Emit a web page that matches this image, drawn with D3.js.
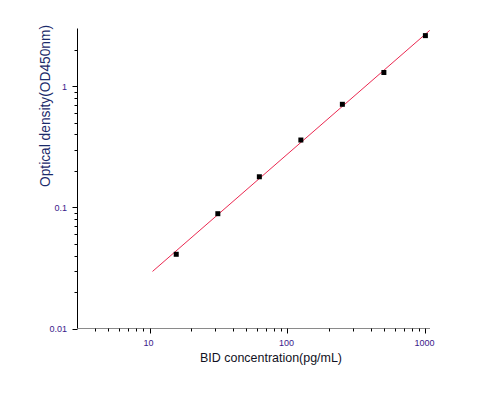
<!DOCTYPE html>
<meta charset="utf-8">
<style>
body {
  margin: 0;
  background: #fff;
  font-family: Arial, "Liberation Sans", sans-serif;
}
.tick-label {
  font-size: 9px;
  fill: #3a1a8a;
}
</style>
<body>
<script src="https://cdn.jsdelivr.net/npm/d3@7"></script>
<script>

var width = 495,
    height = 399;

// standard concentrations (pg/mL) and measured OD450
var concentrations = [15.6, 31.25, 62.5, 125, 250, 500, 1000];
var od450 = [0.041, 0.0887, 0.179, 0.36, 0.71, 1.30, 2.62];

var xTickValues = [10, 100, 1000];
var xTickLabels = ["10", "100", "1000"];
var yTickValues = [0.01, 0.1, 1];
var yTickLabels = ["0.01", "0.1", "1"];

var xDomain = [3, 1080],
    yDomain = [0.01, 3],
    fitRange = [10.5, 1075];

var x = d3.scaleLog().domain(xDomain).range([77.5, 430]);
var y = d3.scaleLog().domain(yDomain).range([328.5, 28.5]);

var svg = d3.select("body").append("svg")
    .attr("width", width)
    .attr("height", height);

// minor ticks: 2..9 of every decade inside the domain
function minors(domain) {
  var out = [];
  for (var e = -3; e <= 4; e++) {
    for (var m = 2; m <= 9; m++) {
      var v = m * Math.pow(10, e);
      if (v > domain[0] * 1.0001 && v < domain[1] * 0.9999) out.push(v);
    }
  }
  return out;
}

// x axis
var gx = svg.append("g");
gx.append("line")
    .attr("x1", x.range()[0]).attr("x2", x.range()[1])
    .attr("y1", 328.5).attr("y2", 328.5)
    .attr("stroke", "#8a8a8a");
gx.selectAll(".minor")
    .data(minors(xDomain))
  .enter().append("line")
    .attr("x1", function(d) { return Math.round(x(d)) + 0.5; })
    .attr("x2", function(d) { return Math.round(x(d)) + 0.5; })
    .attr("y1", 328.5).attr("y2", 331.5)
    .attr("stroke", "#000");
gx.selectAll(".major")
    .data(xTickValues)
  .enter().append("line")
    .attr("x1", function(d) { return Math.round(x(d)) + 0.5; })
    .attr("x2", function(d) { return Math.round(x(d)) + 0.5; })
    .attr("y1", 328.5).attr("y2", 333.5)
    .attr("stroke", "#000");
gx.selectAll(".tick-label")
    .data(xTickValues)
  .enter().append("text")
    .attr("class", "tick-label")
    .attr("text-anchor", "middle")
    .attr("x", function(d) { return x(d) - 1; })
    .attr("y", 346)
    .text(function(d, i) { return xTickLabels[i]; });

// y axis
var gy = svg.append("g");
gy.append("line")
    .attr("x1", 77.5).attr("x2", 77.5)
    .attr("y1", y.range()[1]).attr("y2", y.range()[0])
    .attr("stroke", "#000");
gy.selectAll(".minor")
    .data(minors(yDomain))
  .enter().append("line")
    .attr("x1", 74.5).attr("x2", 77.5)
    .attr("y1", function(d) { return Math.round(y(d)) + 0.5; })
    .attr("y2", function(d) { return Math.round(y(d)) + 0.5; })
    .attr("stroke", "#000");
gy.selectAll(".major")
    .data(yTickValues)
  .enter().append("line")
    .attr("x1", 72.5).attr("x2", 77.5)
    .attr("y1", function(d) { return Math.round(y(d)) + 0.5; })
    .attr("y2", function(d) { return Math.round(y(d)) + 0.5; })
    .attr("stroke", "#000");
gy.selectAll(".tick-label")
    .data(yTickValues)
  .enter().append("text")
    .attr("class", "tick-label")
    .attr("text-anchor", "end")
    .attr("x", 67)
    .attr("y", function(d) { return y(d) + 3.5; })
    .text(function(d, i) { return yTickLabels[i]; });

// log-log least squares fit
var lx = concentrations.map(Math.log10),
    ly = od450.map(Math.log10),
    n = lx.length,
    mx = d3.mean(lx), my = d3.mean(ly);
var slope = d3.sum(lx, function(v, i) { return (v - mx) * (ly[i] - my); }) /
            d3.sum(lx, function(v) { return (v - mx) * (v - mx); });
var icpt = my - slope * mx;
function fit(c) { return Math.pow(10, icpt + slope * Math.log10(c)); }

svg.append("line")
    .attr("x1", x(fitRange[0])).attr("y1", y(fit(fitRange[0])))
    .attr("x2", x(fitRange[1])).attr("y2", y(fit(fitRange[1])))
    .attr("stroke", "#e8103c")
    .attr("stroke-width", 0.9);

// points
svg.selectAll(".point")
    .data(concentrations)
  .enter().append("rect")
    .attr("class", "point")
    .attr("x", function(d) { return x(d) - 2.5; })
    .attr("y", function(d, i) { return y(od450[i]) - 2.5; })
    .attr("width", 5)
    .attr("height", 5)
    .attr("fill", "#000");

// axis titles
svg.append("text")
    .attr("x", 200)
    .attr("y", 362)
    .attr("textLength", 142)
    .attr("lengthAdjust", "spacingAndGlyphs")
    .attr("font-size", "13.5px")
    .attr("fill", "#111122")
    .text("BID concentration(pg/mL)");

svg.append("text")
    .attr("transform", "translate(50,187) rotate(-90)")
    .attr("textLength", 162)
    .attr("lengthAdjust", "spacingAndGlyphs")
    .attr("font-size", "15px")
    .attr("fill", "#1a2a6a")
    .text("Optical density(OD450nm)");

</script>
